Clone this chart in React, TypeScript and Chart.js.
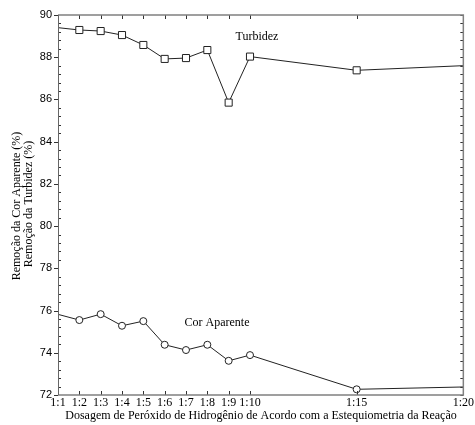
import React, { useEffect, useRef } from "react";
import { Chart, registerables } from "chart.js";

Chart.register(...registerables);

const doses = [1, 2, 3, 4, 5, 6, 7, 8, 9, 10, 15, 20];
const turbidez = [89.4, 89.29, 89.24, 89.05, 88.58, 87.92, 87.96, 88.34, 85.85, 88.03, 87.38, 87.6];
const corAparente = [75.82, 75.55, 75.83, 75.28, 75.5, 74.38, 74.13, 74.38, 73.62, 73.89, 72.27, 72.38];
const xTickValues = [1, 2, 3, 4, 5, 6, 7, 8, 9, 10, 15, 20];
const yMin = 72;
const yMax = 90;
const yStep = 2;
const yMinorStep = 0.4;
const xTitle = "Dosagem de Peróxido de Hidrogênio de Acordo com a Estequiometria da Reação";
const yTitle1 = "Remoção da Cor Aparente (%)";
const yTitle2 = "Remoção da Turbidez (%)";
const label1 = "Turbidez";
const label2 = "Cor Aparente";

const SERIF = '"Liberation Serif", "DejaVu Serif", serif';
const SANS = '"Liberation Sans", Arial, sans-serif';

const markerRadii = (n: number, r: number) => doses.map((_, i) => (i === 0 || i === n - 1 ? 0 : r));

const decorPlugin = {
  id: "decor",
  afterDraw(chart: any) {
    const { ctx, chartArea } = chart;
    const { left, right, top, bottom } = chartArea;
    const xs = chart.scales.x;
    const ys = chart.scales.y;
    ctx.save();
    // ticks
    ctx.strokeStyle = "#333";
    ctx.lineWidth = 1;
    ctx.beginPath();
    xTickValues.forEach((v) => {
      if (v === 1 || v === 20) return;
      const px = Math.round(xs.getPixelForValue(v)) + 0.5;
      ctx.moveTo(px, bottom);
      ctx.lineTo(px, bottom - 4);
      ctx.moveTo(px, top);
      ctx.lineTo(px, top + 4);
    });
    for (let v = yMin; v <= yMax + 1e-6; v += yMinorStep) {
      const py = Math.round(ys.getPixelForValue(v)) + 0.5;
      const isMajor = Math.abs((v - yMin) / yStep - Math.round((v - yMin) / yStep)) < 1e-6;
      if (isMajor) {
        ctx.moveTo(left, py);
        ctx.lineTo(left - 4, py);
      } else {
        ctx.moveTo(left, py);
        ctx.lineTo(left + 3, py);
      }
      ctx.moveTo(right, py);
      ctx.lineTo(right - 3, py);
    }
    ctx.stroke();
    // frame
    ctx.strokeStyle = "#808080";
    ctx.lineWidth = 1.5;
    ctx.beginPath();
    ctx.moveTo(left, top);
    ctx.lineTo(right, top);
    ctx.lineTo(right, bottom);
    ctx.lineTo(left, bottom);
    ctx.stroke();
    ctx.strokeStyle = "#666";
    ctx.lineWidth = 1;
    ctx.beginPath();
    ctx.moveTo(left + 0.5, top);
    ctx.lineTo(left + 0.5, bottom);
    ctx.stroke();
    // texts
    ctx.fillStyle = "#000";
    ctx.textAlign = "center";
    ctx.textBaseline = "middle";
    ctx.font = "12px " + SERIF;
    ctx.fillText(label1, 257, 37);
    ctx.fillText(label2, 217, 323);
    ctx.fillText(xTitle, 261, 416);
    ctx.save();
    ctx.translate(17, 206);
    ctx.rotate(-Math.PI / 2);
    ctx.fillText(yTitle1, 0, 0);
    ctx.restore();
    ctx.save();
    ctx.translate(29, 204);
    ctx.rotate(-Math.PI / 2);
    ctx.fillText(yTitle2, 0, 0);
    ctx.restore();
    ctx.restore();
  },
};

export default function App() {
  const ref = useRef<HTMLCanvasElement | null>(null);
  useEffect(() => {
    document.body.style.margin = "0";
    const canvas = ref.current;
    if (!canvas) return;
    const chart = new Chart(canvas, {
      type: "line",
      data: {
        datasets: [
          {
            label: label1,
            data: doses.map((d, i) => ({ x: d, y: turbidez[i] })),
            borderColor: "#222",
            borderWidth: 1,
            pointStyle: "rect",
            pointRadius: markerRadii(doses.length, 5),
            pointBackgroundColor: "#fff",
            pointBorderColor: "#222",
            pointBorderWidth: 1,
            tension: 0,
          },
          {
            label: label2,
            data: doses.map((d, i) => ({ x: d, y: corAparente[i] })),
            borderColor: "#222",
            borderWidth: 1,
            pointStyle: "circle",
            pointRadius: markerRadii(doses.length, 3.5),
            pointBackgroundColor: "#fff",
            pointBorderColor: "#222",
            pointBorderWidth: 1,
            tension: 0,
          },
        ],
      },
      options: {
        responsive: false,
        animation: false,
        layout: { padding: { top: 15, right: 8, left: 0, bottom: 0 } },
        plugins: { legend: { display: false }, tooltip: { enabled: false } },
        scales: {
          x: {
            type: "linear",
            min: 1,
            max: 20,
            afterBuildTicks: (s: any) => {
              s.ticks = xTickValues.map((v) => ({ value: v }));
            },
            afterFit: (s: any) => {
              s.height = 30;
            },
            ticks: {
              callback: (v: any) => "1:" + v,
              font: { family: SERIF, size: 12 },
              color: "#000",
              maxRotation: 0,
              autoSkip: false,
              padding: 1,
            },
            grid: { display: false, drawTicks: false },
            border: { display: false },
          },
          y: {
            type: "linear",
            min: yMin,
            max: yMax,
            afterFit: (s: any) => {
              s.width = 58;
            },
            ticks: {
              stepSize: yStep,
              font: { family: SANS, size: 11 },
              color: "#000",
              padding: 6,
            },
            grid: { display: false, drawTicks: false },
            border: { display: false },
          },
        },
      },
      plugins: [decorPlugin],
    });
    return () => chart.destroy();
  }, []);
  return <canvas ref={ref} width={475} height={425} style={{ display: "block" }} />;
}
